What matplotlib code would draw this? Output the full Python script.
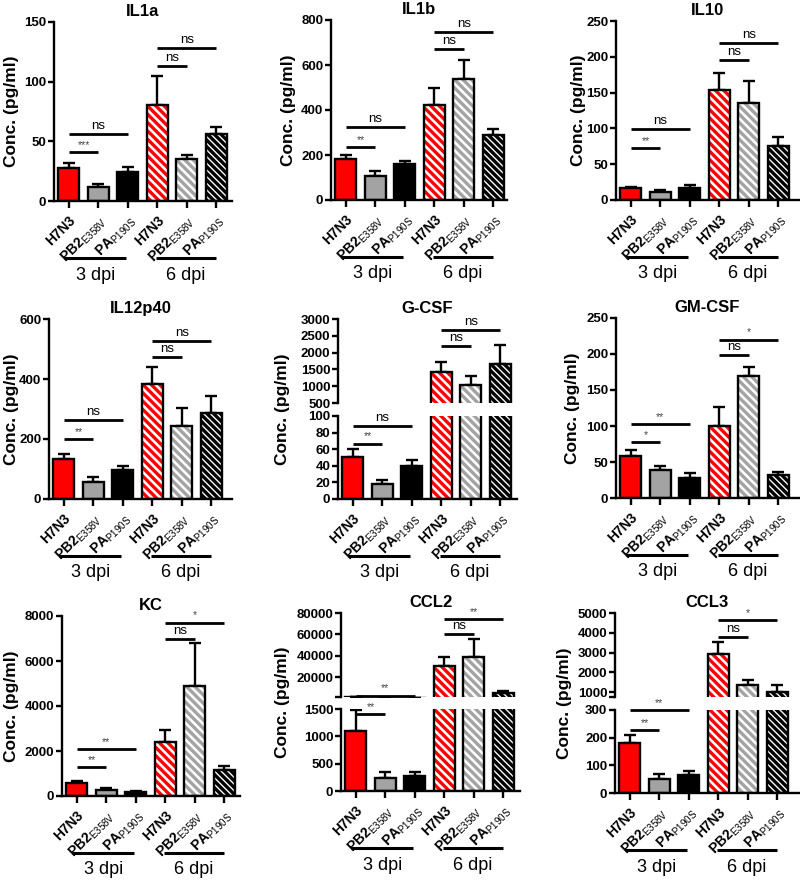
import numpy as np
import matplotlib
matplotlib.use('Agg')
import matplotlib.pyplot as plt
from matplotlib.transforms import blended_transform_factory

plt.rcParams['font.family'] = ['Liberation Sans', 'DejaVu Sans']
plt.rcParams['mathtext.fontset'] = 'custom'
plt.rcParams['mathtext.rm'] = 'Liberation Sans'
plt.rcParams['mathtext.bf'] = 'Liberation Sans:bold'
plt.rcParams['hatch.linewidth'] = 2.4

W, H = 800, 881

# x categories (same in every panel)
strains = ['H7N3', r'$\mathbf{PB2}_{\mathrm{E358V}}$', r'$\mathbf{PA}_{\mathrm{P190S}}$'] * 2
days = ['3 dpi', '6 dpi']
bar_colors = ['#ff0000', '#a3a3a3', '#000000'] * 2

# mean / SEM per cytokine, order: H7N3, PB2, PA at 3 dpi then 6 dpi
il1a_mean = [28, 11.5, 24.6, 80.6, 35.3, 56]
il1a_sem = [4, 2.5, 3.7, 23.8, 3.3, 6.4]
il1a_sig = [(0, 1, 41, '***'), (0, 2, 56, 'ns'), (3, 4, 113, 'ns'), (3, 5, 128, 'ns')]

il1b_mean = [181, 108, 160, 422, 539, 290]
il1b_sem = [17, 19, 15, 74, 83, 27]
il1b_sig = [(0, 1, 237, '**'), (0, 2, 323, 'ns'), (3, 4, 672, 'ns'), (3, 5, 747, 'ns')]

il10_mean = [17.2, 10.7, 16.3, 153.3, 135, 75.7]
il10_sem = [0.8, 2.8, 4.1, 23.7, 31, 12.6]
il10_sig = [(0, 1, 73, '**'), (0, 2, 99, 'ns'), (3, 4, 195, 'ns'), (3, 5, 219, 'ns')]

il12_mean = [133, 57, 98, 384, 243, 288]
il12_sem = [17, 15, 11, 55, 61, 54]
il12_sig = [(0, 1, 200, '**'), (0, 2, 263, 'ns'), (3, 4, 473, 'ns'), (3, 5, 528, 'ns')]

gcsf_mean = [50.8, 18.4, 39.2, 1413, 1026, 1661]
gcsf_sem = [9.2, 4, 7.6, 307, 287, 565]
gcsf_sig = [(0, 1, 66.8, '**'), (0, 2, 88, 'ns'), (3, 4, 2206, 'ns'), (3, 5, 2683, 'ns')]

gmcsf_mean = [59, 38.6, 28.3, 100.4, 169.6, 31.6]
gmcsf_sem = [7, 5.4, 6.1, 25.6, 12.1, 4.6]
gmcsf_sig = [(0, 1, 78, '*'), (0, 2, 102.7, '**'), (3, 4, 198, 'ns'), (3, 5, 220, '*')]

kc_mean = [563, 281, 178, 2415, 4874, 1156]
kc_sem = [104, 75, 59, 518, 1941, 192]
kc_sig = [(0, 1, 1274, '**'), (0, 2, 2074, '**'), (3, 4, 6993, 'ns'), (3, 5, 7704, '*')]

ccl2_mean = [1090, 230, 280, 30900, 38800, 5600]
ccl2_sem = [400, 110, 60, 8100, 17200, 1900]
ccl2_sig = [(0, 1, 1408, '**'), (0, 2, 2800, '**'), (3, 4, 60600, 'ns'), (3, 5, 74700, '**')]

ccl3_mean = [180, 52, 66, 2940, 1370, 1020]
ccl3_sem = [28, 18, 14, 607, 253, 354]
ccl3_sig = [(0, 1, 228, '**'), (0, 2, 299, '**'), (3, 4, 3800, 'ns'), (3, 5, 4630, '*')]

# axis ticks; broken panels get (lower ticks, upper ticks, upper bottom)
il1a_ticks = [0, 50, 100, 150]
il1b_ticks = [0, 200, 400, 600, 800]
il10_ticks = [0, 50, 100, 150, 200, 250]
il12_ticks = [0, 200, 400, 600]
gcsf_ticks = [0, 20, 40, 60, 80, 100]
gcsf_ticks_hi = [500, 1000, 1500, 2000, 2500, 3000]
gmcsf_ticks = [0, 50, 100, 150, 200, 250]
kc_ticks = [0, 2000, 4000, 6000, 8000]
ccl2_ticks = [0, 500, 1000, 1500]
ccl2_ticks_hi = [20000, 40000, 60000, 80000]
ccl3_ticks = [0, 100, 200, 300]
ccl3_ticks_hi = [1000, 2000, 3000, 4000, 5000]

panels = [
    ('IL1a', il1a_mean, il1a_sem, il1a_sig, il1a_ticks, None, None),
    ('IL1b', il1b_mean, il1b_sem, il1b_sig, il1b_ticks, None, None),
    ('IL10', il10_mean, il10_sem, il10_sig, il10_ticks, None, None),
    ('IL12p40', il12_mean, il12_sem, il12_sig, il12_ticks, None, None),
    ('G-CSF', gcsf_mean, gcsf_sem, gcsf_sig, gcsf_ticks, gcsf_ticks_hi, 500),
    ('GM-CSF', gmcsf_mean, gmcsf_sem, gmcsf_sig, gmcsf_ticks, None, None),
    ('KC', kc_mean, kc_sem, kc_sig, kc_ticks, None, None),
    ('CCL2', ccl2_mean, ccl2_sem, ccl2_sig, ccl2_ticks, ccl2_ticks_hi, 1500),
    ('CCL3', ccl3_mean, ccl3_sem, ccl3_sig, ccl3_ticks, ccl3_ticks_hi, 750),
]

# pixel layout: left, top, right, bottom, ylabel x, (upper bottom, lower top) for broken axes
layout = [
    (54, 22, 232, 201, 12, None),
    (331, 20, 507, 200, 289, None),
    (616, 21, 799, 200, 579, None),
    (49, 319, 232, 499, 12, None),
    (338, 319, 517, 499, 282, (403, 416)),
    (616, 318, 799, 498, 573, None),
    (62, 616, 240, 796, 12, None),
    (341, 613, 520, 791, 282, (697, 709)),
    (615, 613, 799, 793, 564, (697, 710)),
]

PX_PER_BAR = 29.5
LW = 1.7


def px_rect(l, t, r, b):
    return [l / W, 1 - b / H, (r - l) / W, (b - t) / H]


def style(ax, xmax, ticks, ylim):
    ax.set_xlim(-0.5, xmax)
    ax.set_ylim(*ylim)
    for s in ['top', 'right']:
        ax.spines[s].set_visible(False)
    for s in ['left', 'bottom']:
        ax.spines[s].set_linewidth(LW)
    ax.set_yticks(ticks)
    ax.set_yticklabels([str(t) for t in ticks], fontweight='bold', fontsize=9.5)
    ax.tick_params(axis='y', length=4, width=LW, pad=1.5)
    ax.tick_params(axis='x', length=5, width=LW)


def draw_bars(ax, mean, sem):
    x = np.arange(6)
    ax.errorbar(x, mean, yerr=[np.zeros(6), sem], fmt='none', ecolor='black',
                elinewidth=LW, capsize=4, capthick=LW, zorder=1)
    for i in range(6):
        if i < 3:
            ax.bar(x[i], mean[i], 0.7, color=bar_colors[i], edgecolor='black',
                   linewidth=LW, zorder=2)
        else:
            # white bar with coloured stripes; black one is denser
            dense = bar_colors[i] == '#000000'
            ax.bar(x[i], mean[i], 0.7, color='white', edgecolor=bar_colors[i],
                   linewidth=0, hatch='\\' * (5 if dense else 4), zorder=2)
            ax.bar(x[i], mean[i], 0.7, fill=False, edgecolor='black',
                   linewidth=LW, zorder=3)


def draw_sig(ax, i, j, y, label):
    ax.plot([i, j], [y, y], color='black', lw=2.0, solid_capstyle='butt',
            clip_on=False, zorder=4)
    if label == 'ns':
        ax.annotate(label, (0.5 * (i + j), y), xytext=(0, 1.5), textcoords='offset points',
                    ha='center', va='bottom', fontsize=9.5, annotation_clip=False)
    else:
        ax.annotate(label, (0.5 * (i + j), y), xytext=(0, 1.5), textcoords='offset points',
                    ha='center', va='bottom', fontsize=7.5, color='#444444',
                    annotation_clip=False)


fig = plt.figure(figsize=(W / 100, H / 100), dpi=100)

for (name, mean, sem, sig, ticks, ticks_hi, hi_lo), (l, t, r, b, ylx, split) in zip(panels, layout):
    xmax = -0.5 + (r - l) / PX_PER_BAR
    if split is None:
        ax = fig.add_axes(px_rect(l, t, r, b))
        style(ax, xmax, ticks, (0, ticks[-1]))
        draw_bars(ax, mean, sem)
        for s in sig:
            draw_sig(ax, *s)
        ax.set_title(name, fontweight='bold', fontsize=12, pad=4)
        low = ax
    else:
        up = fig.add_axes(px_rect(l, t, r, split[0]))
        low = fig.add_axes(px_rect(l, split[1], r, b))
        style(up, xmax, ticks_hi, (hi_lo, ticks_hi[-1]))
        style(low, xmax, ticks, (0, ticks[-1]))
        up.spines['bottom'].set_visible(False)
        up.tick_params(axis='x', bottom=False, labelbottom=False)
        up.set_yticks([hi_lo], minor=True)
        up.tick_params(axis='y', which='minor', length=4, width=LW)
        draw_bars(up, mean, sem)
        draw_bars(low, mean, sem)
        for s in sig:
            draw_sig(up if s[2] > ticks[-1] else low, *s)
        up.set_title(name, fontweight='bold', fontsize=12, pad=4)

    low.set_xticks(range(6))
    low.set_xticklabels(strains, rotation=45, ha='right', va='top',
                        rotation_mode='anchor', fontweight='bold', fontsize=10)

    # group underline and day label
    hpx = b - (split[1] if split else t)
    tr = blended_transform_factory(low.transData, low.transAxes)
    for k, (x0, x1) in enumerate([(-0.15, 1.95), (2.95, 5.0)]):
        low.plot([x0, x1], [-57 / hpx] * 2, color='black', lw=2.2,
                 transform=tr, clip_on=False, solid_capstyle='butt')
        low.text(0.5 * (x0 + x1), -74 / hpx, days[k], transform=tr,
                 ha='center', va='center', fontsize=13)

    fig.text(ylx / W, 1 - 0.5 * (t + b) / H, 'Conc. (pg/ml)', rotation=90,
             ha='center', va='center', fontweight='bold', fontsize=12.5)

fig.savefig('out.png', dpi=100)
